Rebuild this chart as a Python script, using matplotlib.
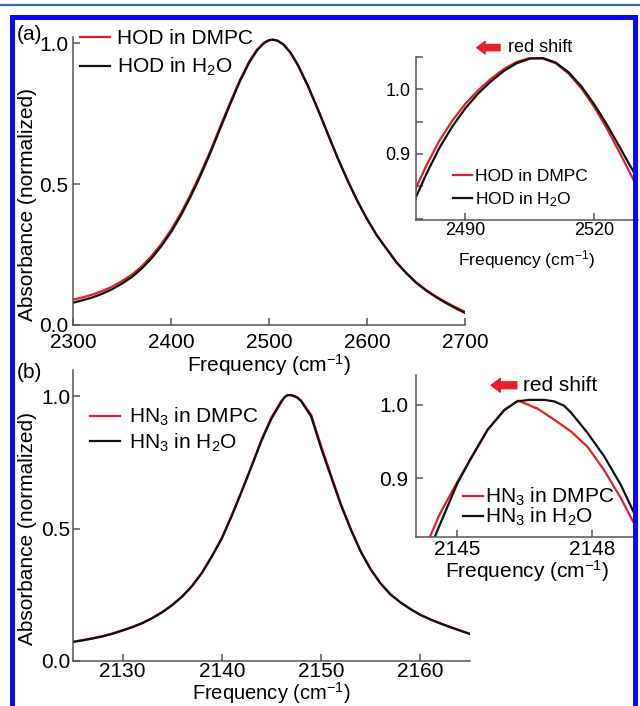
import numpy as np
import matplotlib
matplotlib.use('Agg')
import matplotlib.pyplot as plt
from matplotlib.patches import Rectangle
from matplotlib.lines import Line2D
from matplotlib.ticker import FormatStrFormatter, MultipleLocator

plt.rcParams['font.family'] = ['Liberation Sans', 'DejaVu Sans']
plt.rcParams['mathtext.fontset'] = 'custom'
plt.rcParams['mathtext.rm'] = 'Liberation Sans'
plt.rcParams['mathtext.it'] = 'Liberation Sans:italic'
plt.rcParams['mathtext.default'] = 'regular'

# --- данные (a): HOD, общий вид ---
hod_freq = [2300, 2310, 2320, 2330, 2340, 2350, 2360, 2370, 2380, 2390, 2400, 2410, 2420,
            2430, 2440, 2450, 2460, 2470, 2480, 2488, 2495, 2500, 2504, 2509, 2515, 2522,
            2530, 2540, 2550, 2560, 2570, 2580, 2590, 2600, 2610, 2620, 2630, 2640, 2650,
            2660, 2670, 2680, 2690, 2700]
hod_dmpc = [0.090, 0.098, 0.108, 0.121, 0.136, 0.156, 0.178, 0.208, 0.244, 0.287, 0.337, 0.396, 0.463,
            0.537, 0.616, 0.702, 0.786, 0.867, 0.936, 0.978, 1.002, 1.010, 1.012, 1.008, 0.994, 0.965,
            0.918, 0.845, 0.763, 0.678, 0.593, 0.514, 0.441, 0.376, 0.318, 0.270, 0.223, 0.185, 0.152,
            0.125, 0.102, 0.082, 0.064, 0.047]
hod_h2o = [0.079, 0.088, 0.098, 0.111, 0.127, 0.147, 0.170, 0.200, 0.236, 0.279, 0.329, 0.388, 0.455,
           0.529, 0.609, 0.695, 0.780, 0.862, 0.932, 0.975, 1.000, 1.010, 1.012, 1.008, 0.994, 0.966,
           0.919, 0.846, 0.764, 0.678, 0.593, 0.514, 0.441, 0.376, 0.318, 0.270, 0.222, 0.184, 0.150,
           0.123, 0.100, 0.079, 0.060, 0.043]

# --- (a) вставка: вершина пика ---
hod_zoom_freq = [2478.5, 2481, 2484, 2487, 2490, 2493, 2496, 2499, 2502, 2505, 2508, 2511,
                 2514, 2517, 2520, 2523, 2526, 2528, 2530]
hod_zoom_dmpc = [0.846, 0.882, 0.920, 0.951, 0.977, 0.998, 1.016, 1.031, 1.042, 1.048, 1.047, 1.040,
                 1.024, 1.001, 0.972, 0.938, 0.900, 0.874, 0.848]
hod_zoom_h2o = [0.832, 0.869, 0.909, 0.942, 0.970, 0.993, 1.012, 1.028, 1.040, 1.047, 1.048, 1.041,
                1.026, 1.004, 0.976, 0.944, 0.909, 0.885, 0.862]

# --- данные (b): HN3, общий вид ---
hn3_freq = [2125, 2126, 2127, 2128, 2129, 2130, 2131, 2132, 2133, 2134, 2135, 2136, 2137, 2138,
            2139, 2140, 2141, 2142, 2143, 2144, 2145, 2146, 2146.3, 2146.6, 2146.9, 2147.2,
            2147.6, 2148, 2149, 2150, 2151, 2152, 2153, 2154, 2155, 2156, 2157, 2158, 2159,
            2160, 2161, 2162, 2163, 2164, 2165]
hn3_dmpc = [0.073, 0.079, 0.086, 0.094, 0.104, 0.116, 0.129, 0.144, 0.163, 0.185, 0.212, 0.244, 0.284, 0.334,
            0.396, 0.465, 0.550, 0.642, 0.737, 0.836, 0.920, 0.982, 0.996, 1.003, 1.003, 1.000,
            0.995, 0.982, 0.929, 0.811, 0.701, 0.592, 0.497, 0.413, 0.346, 0.292, 0.251, 0.221, 0.196,
            0.174, 0.157, 0.142, 0.128, 0.115, 0.102]
hn3_h2o = [0.072, 0.078, 0.085, 0.093, 0.103, 0.115, 0.128, 0.143, 0.162, 0.184, 0.211, 0.243, 0.283, 0.333,
           0.395, 0.463, 0.548, 0.640, 0.735, 0.832, 0.915, 0.978, 0.994, 1.003, 1.004, 1.001,
           0.994, 0.980, 0.922, 0.803, 0.695, 0.588, 0.495, 0.412, 0.345, 0.292, 0.251, 0.221, 0.196,
           0.174, 0.157, 0.142, 0.128, 0.115, 0.102]

# --- (b) вставка ---
hn3_zoom_freq_dmpc = [2144.35, 2144.6, 2145.0, 2145.3, 2145.67, 2146.04, 2146.35, 2146.78,
                      2147.15, 2147.52, 2147.89, 2148.26, 2148.63, 2148.96]
hn3_zoom_dmpc = [0.814, 0.850, 0.895, 0.927, 0.966, 0.993, 1.006, 0.995,
                 0.980, 0.964, 0.943, 0.911, 0.873, 0.834]
hn3_zoom_freq_h2o = [2144.44, 2144.6, 2145.0, 2145.3, 2145.67, 2146.04, 2146.33, 2146.6,
                     2146.93, 2147.15, 2147.37, 2147.52, 2147.89, 2148.26, 2148.63, 2148.96]
hn3_zoom_h2o = [0.811, 0.835, 0.893, 0.927, 0.966, 0.993, 1.005, 1.007,
                1.007, 1.005, 0.999, 0.990, 0.962, 0.930, 0.891, 0.848]

RED = '#e3202b'
BLACK = '#111111'
SPINE = '#555555'
W, H = 640, 706


def px_rect(left, top, right, bottom):
    # прямоугольник осей в пикселях -> доли фигуры
    return [left / W, (H - bottom) / H, (right - left) / W, (bottom - top) / H]


def style_axes(ax, fs, xpad, ypad):
    for s in ('top', 'right'):
        ax.spines[s].set_visible(False)
    for s in ('left', 'bottom'):
        ax.spines[s].set_color(SPINE)
        ax.spines[s].set_linewidth(1.1)
    ax.tick_params(direction='in', length=5, width=1.1, color=SPINE, labelsize=fs)
    ax.tick_params(axis='x', pad=xpad)
    ax.tick_params(axis='y', pad=ypad)
    ax.tick_params(which='minor', direction='in', length=5, width=1.1, color=SPINE)
    ax.patch.set_alpha(0)


fig = plt.figure(figsize=(6.4, 7.06), dpi=100)

# ===== (a) главный =====
ax_a = fig.add_axes(px_rect(73, 37.4, 465, 325))
ax_a.plot(hod_freq, hod_dmpc, c=RED, lw=1.6, label='HOD in DMPC')
ax_a.plot(hod_freq, hod_h2o, c=BLACK, lw=1.6, label='HOD in H$_2$O')
ax_a.set_xlim(2300, 2700)
ax_a.set_ylim(0, 1.02)
ax_a.set_xticks([2300, 2400, 2500, 2600, 2700])
ax_a.set_yticks([0, 0.5, 1.0])
ax_a.yaxis.set_major_formatter(FormatStrFormatter('%.1f'))
style_axes(ax_a, 15, 6, 3.5)
ax_a.set_xlabel('Frequency (cm$^{-1}$)', fontsize=15)
ax_a.xaxis.set_label_coords(0.5, -0.094)
ax_a.set_ylabel('Absorbance (normalized)', fontsize=15)
ax_a.yaxis.set_label_coords(-0.092, 0.42)
ax_a.legend(loc='upper left', bbox_to_anchor=(0.018, 1.029), frameon=False, fontsize=15,
            handlelength=1.44, handletextpad=0.34, borderpad=0, borderaxespad=0,
            labelspacing=0.39)

# ===== (a) вставка =====
ax_ai = fig.add_axes(px_rect(416, 56.7, 637.5, 220))
ax_ai.plot(hod_zoom_freq, hod_zoom_dmpc, c=RED, lw=1.6, label='HOD in DMPC')
ax_ai.plot(hod_zoom_freq, hod_zoom_h2o, c=BLACK, lw=1.6, label='HOD in H$_2$O')
ax_ai.set_xlim(2478.6, 2530)
ax_ai.set_ylim(0.798, 1.050)
ax_ai.set_xticks([2490, 2520])
ax_ai.set_yticks([0.9, 1.0])
ax_ai.yaxis.set_minor_locator(MultipleLocator(0.05))
ax_ai.yaxis.set_major_formatter(FormatStrFormatter('%.1f'))
style_axes(ax_ai, 13, 1.8, 4)
ax_ai.set_xlabel('Frequency (cm$^{-1}$)', fontsize=12.5)
ax_ai.xaxis.set_label_coords(0.5, -0.171)
ax_ai.legend(loc='upper left', bbox_to_anchor=(0.167, 0.313), frameon=False, fontsize=12.5,
             handlelength=1.1, handletextpad=0.17, borderpad=0, borderaxespad=0,
             labelspacing=0.34)
ax_ai.annotate('', xy=(2492.7, 1.064), xytext=(2498.1, 1.064), annotation_clip=False,
               arrowprops=dict(arrowstyle='simple,head_length=0.6,head_width=0.9,tail_width=0.45',
                               color=RED, mutation_scale=10, shrinkA=0, shrinkB=0))
ax_ai.text(2499.9, 1.064, 'red shift', fontsize=13, va='center', ha='left', clip_on=False)

# ===== (b) главный =====
ax_b = fig.add_axes(px_rect(73, 369.5, 470, 661))
ax_b.plot(hn3_freq, hn3_dmpc, c=RED, lw=1.6, label='HN$_3$ in DMPC')
ax_b.plot(hn3_freq, hn3_h2o, c=BLACK, lw=1.6, label='HN$_3$ in H$_2$O')
ax_b.set_xlim(2125, 2165)
ax_b.set_ylim(0, 1.1)
ax_b.set_xticks([2130, 2140, 2150, 2160])
ax_b.set_yticks([0, 0.5, 1.0])
ax_b.yaxis.set_major_formatter(FormatStrFormatter('%.1f'))
style_axes(ax_b, 15, 0.8, 2)
ax_b.set_xlabel('Frequency (cm$^{-1}$)', fontsize=14.5)
ax_b.xaxis.set_label_coords(0.5, -0.067)
ax_b.set_ylabel('Absorbance (normalized)', fontsize=15)
ax_b.yaxis.set_label_coords(-0.091, 0.456)
ax_b.legend(loc='upper left', bbox_to_anchor=(0.043, 0.875), frameon=False, fontsize=15,
            handlelength=1.44, handletextpad=0.43, borderpad=0, borderaxespad=0,
            labelspacing=0.15)

# ===== (b) вставка =====
ax_bi = fig.add_axes(px_rect(416, 375, 637.4, 536.7))
ax_bi.plot(hn3_zoom_freq_dmpc, hn3_zoom_dmpc, c=RED, lw=1.6, label='HN$_3$ in DMPC')
ax_bi.plot(hn3_zoom_freq_h2o, hn3_zoom_h2o, c=BLACK, lw=1.6, label='HN$_3$ in H$_2$O')
ax_bi.set_xlim(2144.08, 2149.0)
ax_bi.set_ylim(0.820, 1.041)
ax_bi.set_xticks([2145, 2148])
ax_bi.set_yticks([0.9, 1.0])
ax_bi.yaxis.set_major_formatter(FormatStrFormatter('%.1f'))
style_axes(ax_bi, 15, 2.2, 5.5)
ax_bi.set_xlabel('Frequency (cm$^{-1}$)', fontsize=15)
ax_bi.xaxis.set_label_coords(0.5, -0.13)
ax_bi.legend(loc='upper left', bbox_to_anchor=(0.212, 0.314), frameon=False, fontsize=15,
             handlelength=0.96, handletextpad=0.1, borderpad=0, borderaxespad=0,
             labelspacing=-0.1)
ax_bi.annotate('', xy=(2145.75, 1.027), xytext=(2146.32, 1.027), annotation_clip=False,
               arrowprops=dict(arrowstyle='simple,head_length=0.6,head_width=0.9,tail_width=0.45',
                               color=RED, mutation_scale=11, shrinkA=0, shrinkB=0))
ax_bi.text(2146.46, 1.027, 'red shift', fontsize=15, va='center', ha='left', clip_on=False)

# подписи панелей
fig.text(29 / W, 1 - 35 / H, '(a)', fontsize=15, ha='center', va='center')
fig.text(29 / W, 1 - 372 / H, '(b)', fontsize=15, ha='center', va='center')

# синяя рамка и линия сверху
fig.add_artist(Line2D([0, 1], [1 - 5 / H, 1 - 5 / H], transform=fig.transFigure,
                      color='#2e6cb5', lw=1.6, zorder=20))
fig.add_artist(Rectangle((11.5 / W, -0.1), (634.5 - 11.5) / W, (H - 16.5) / H + 0.1,
                         transform=fig.transFigure, fill=False, edgecolor='#0a0af0',
                         lw=3.6, zorder=20))

fig.savefig('out.png', dpi=100)
